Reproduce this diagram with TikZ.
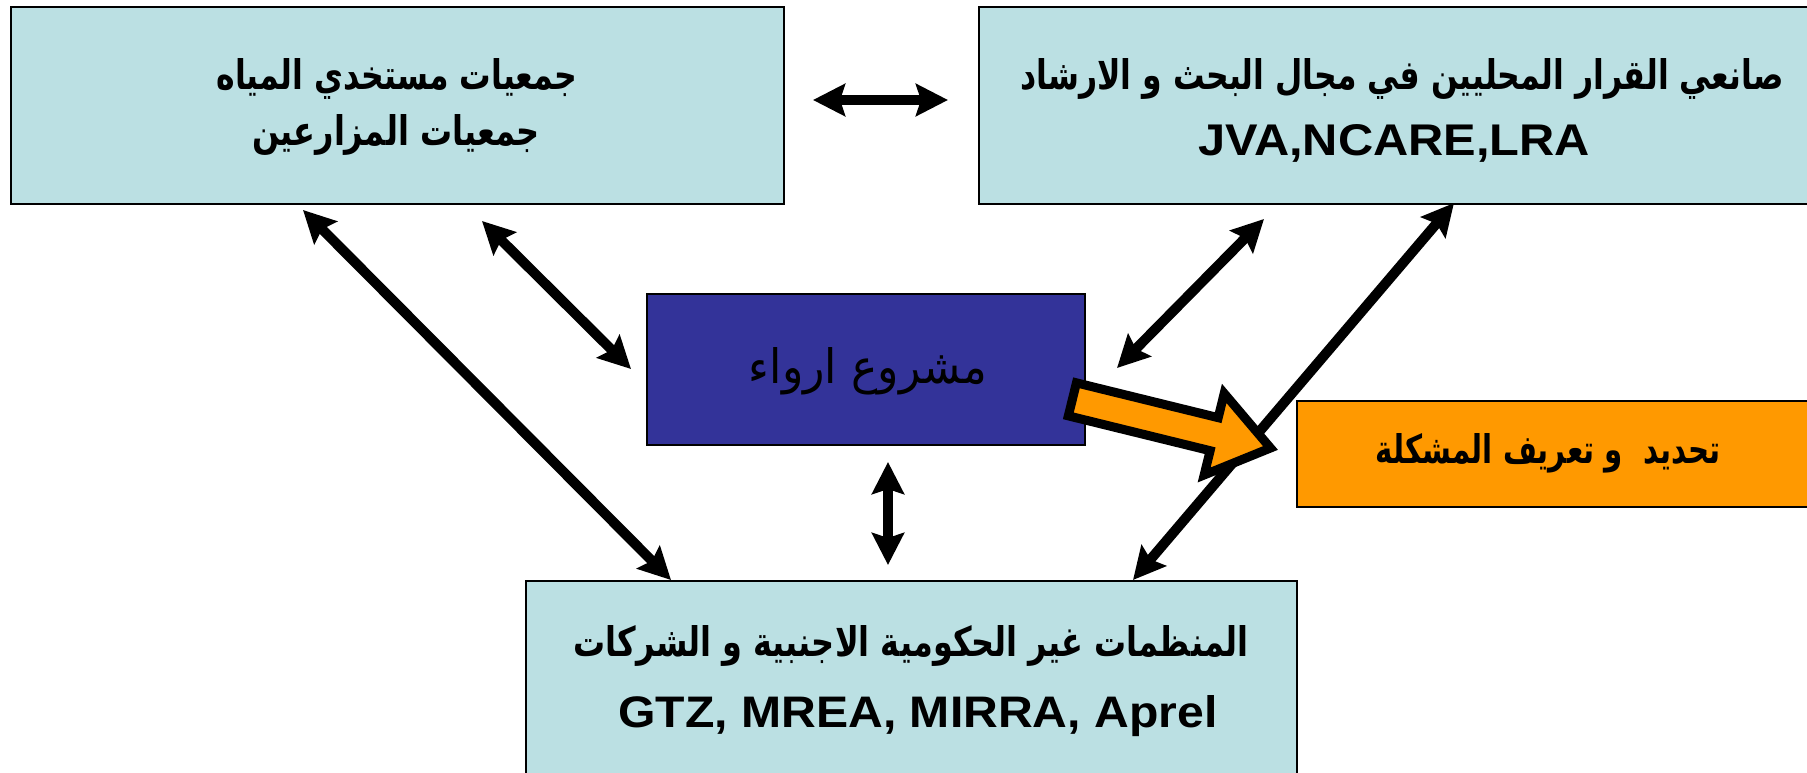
\documentclass[tikz,border=0pt]{standalone}
\usepackage{fontspec}
\usepackage{graphicx}
\usetikzlibrary{arrows.meta}
\TeXXeTstate=1
\newfontfamily\arabicfont[Script=Arabic]{DejaVu Sans}
\newfontfamily\latinfont{Liberation Sans}
\definecolor{paleblue}{RGB}{187,224,227}
\definecolor{navyblue}{RGB}{51,51,153}
\definecolor{amber}{RGB}{255,153,0}
\newcommand{\fitbox}[3]{\resizebox{#1}{#2}{#3}}
\begin{document}
\begin{tikzpicture}[x=1pt,y=-1pt,
  box/.style={draw=black, line width=2pt, inner sep=0pt, outer sep=0pt, anchor=north west},
  txt/.style={anchor=base, inner sep=0pt, outer sep=0pt},
  link/.style={line width=10pt, {Stealth[length=32pt,width=32pt,inset=5pt]}-{Stealth[length=32pt,width=32pt,inset=5pt]}},
  blockarrow/.style={fill=amber, draw=black, line width=9pt, line join=miter}
]
\useasboundingbox (0,0) rectangle (1807,773);

% boxes
\node[box, fill=paleblue, minimum width=773pt, minimum height=196.5pt] (tl) at (10.5,7) {};
\node[box, fill=paleblue, minimum width=840pt, minimum height=196.5pt] (tr) at (979,7) {};
\node[box, fill=navyblue, minimum width=438.5pt, minimum height=151pt] (ctr) at (646.5,294) {};
\node[box, fill=amber, minimum width=520pt, minimum height=106pt] (org) at (1297,401) {};
\node[box, fill=paleblue, minimum width=771pt, minimum height=200pt] (bot) at (526,581) {};

% texts
\node[txt] (tl1) at (397,90) {\fitbox{361pt}{31pt}{\arabicfont\bfseries\beginR جمعيات مستخدي المياه\endR}};
\node[txt] (tl2) at (396,146) {\fitbox{288pt}{31pt}{\arabicfont\bfseries\beginR جمعيات المزارعين\endR}};
\node[txt] (tr1) at (1402,90) {\fitbox{763pt}{31pt}{\arabicfont\bfseries\beginR صانعي القرار المحليين في مجال البحث و الارشاد\endR}};
\node[txt] (tr2) at (1394,156) {\fitbox{392pt}{31pt}{\latinfont\bfseries JVA,NCARE,LRA}};
\node[txt] (ct1) at (868,383) {\fitbox{238pt}{36pt}{\arabicfont\beginR مشروع ارواء\endR}};
\node[txt] (or1) at (1548,463) {\fitbox{345pt}{30pt}{\arabicfont\bfseries\beginR تحديد\ \ و تعريف المشكلة\endR}};
\node[txt] (bt1) at (911,656) {\fitbox{675pt}{31pt}{\arabicfont\bfseries\beginR المنظمات غير الحكومية الاجنبية و الشركات\endR}};
\node[txt] (bt2) at (918,727) {\fitbox{599pt}{32pt}{\latinfont\bfseries GTZ, MREA, MIRRA, Aprel}};

% connector end points
\coordinate (h1) at (813,100);
\coordinate (h2) at (948,100);
\coordinate (a1) at (303,210);
\coordinate (a2) at (671,580);
\coordinate (b1) at (482,221);
\coordinate (b2) at (631,369);
\coordinate (c1) at (1264,219);
\coordinate (c2) at (1117,368);
\coordinate (d1) at (1454,203);
\coordinate (d2) at (1133,580);
\coordinate (v1) at (888,462);
\coordinate (v2) at (888,565);

\draw[link] (h1) -- (h2);
\draw[link] (a1) -- (a2);
\draw[link] (b1) -- (b2);
\draw[link] (c1) -- (c2);
\draw[link] (d1) -- (d2);
\draw[link] (v1) -- (v2);

% block arrow from project box to problem box
\begin{scope}[shift={(1068.5,398.4)}, rotate=-13.8]
  \draw[blockarrow] (4,-17) -- (150,-17) -- (150,-42) -- (208,0) -- (150,42) -- (150,17) -- (4,17) -- cycle;
\end{scope}
\end{tikzpicture}
\end{document}
